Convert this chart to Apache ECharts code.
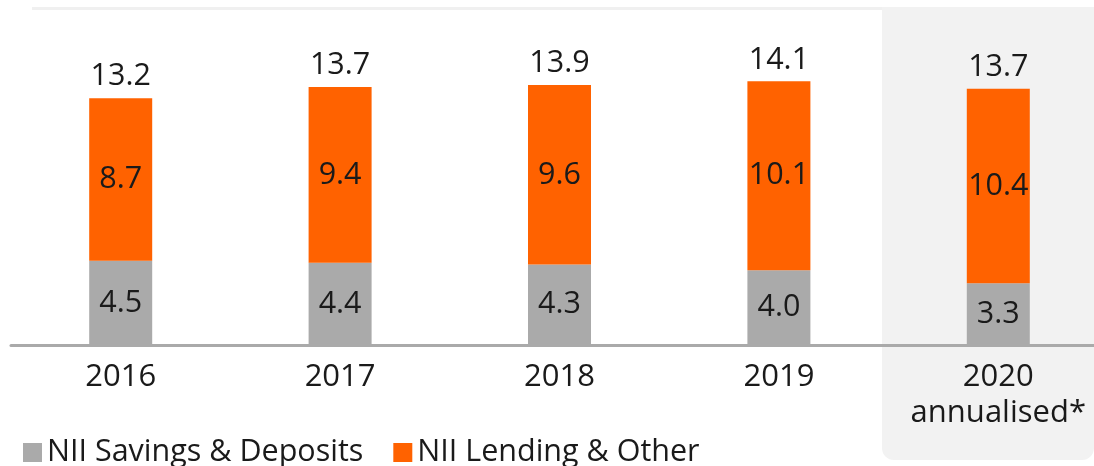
<!DOCTYPE html>
<html>
<head>
<meta charset="utf-8">
<script src="https://cdn.jsdelivr.net/npm/echarts@6/dist/echarts.min.js"></script>
<style>
    html, body { margin: 0; padding: 0; background: #fff; overflow: hidden; }
    #main { width: 1108px; height: 466px; }
</style>
</head>
<body>
<div id="main"></div>
<script>
// 年份
const years = ['2016', '2017', '2018', '2019', '2020\nannualised*'];
// 存款利息收入
const savings = [4.5, 4.4, 4.3, 4.0, 3.3];
// 贷款及其他
const lending = [8.7, 9.4, 9.6, 10.1, 10.4];
// 合计
const totals = [13.2, 13.7, 13.9, 14.1, 13.7];

const font = '"Open Sans", "Liberation Sans", sans-serif';
let chart = echarts.init(document.getElementById('main'));

chart.setOption({
    animation: false,
    textStyle: { fontFamily: font },
    grid: {
        left: 11,
        right: 0,
        top: 8.4,
        bottom: 121
    },
    graphic: [
        // 2020 背景
        {
            type: 'rect',
            z: -10,
            shape: { x: 882, y: 7, width: 212, height: 453, r: [0, 0, 12, 12] },
            style: { fill: '#f2f2f2' }
        },
        // 顶部细线
        {
            type: 'rect',
            z: -10,
            shape: { x: 32, y: 7, width: 850, height: 3 },
            style: { fill: '#f0f0f0' }
        }
    ],
    legend: {
        data: ['NII Savings & Deposits', 'NII Lending & Other'],
        left: 18,
        top: 432,
        itemWidth: 19,
        itemHeight: 19,
        itemGap: 30,
        icon: 'rect',
        textStyle: { fontSize: 30.5, color: '#1a1a1a', fontFamily: font }
    },
    xAxis: {
        type: 'category',
        data: years,
        axisTick: { show: false },
        axisLine: { lineStyle: { color: '#aaaaaa', width: 3 } },
        axisLabel: {
            interval: 0,
            fontSize: 31,
            color: '#1a1a1a',
            lineHeight: 36,
            margin: 14,
            fontFamily: font
        },
        z: 5
    },
    yAxis: {
        type: 'value',
        min: 0,
        max: 18,
        show: false,
        splitLine: { show: false }
    },
    series: [
        {
            name: 'NII Savings & Deposits',
            type: 'bar',
            stack: 'nii',
            barWidth: 63,
            itemStyle: { color: '#aaaaaa' },
            label: {
                show: true,
                position: 'inside',
                fontSize: 30.5,
                color: '#1a1a1a',
                fontFamily: font,
                formatter: function (p) { return p.value.toFixed(1); }
            },
            data: savings
        },
        {
            name: 'NII Lending & Other',
            type: 'bar',
            stack: 'nii',
            barWidth: 63,
            itemStyle: { color: '#ff6200' },
            label: {
                show: true,
                position: 'inside',
                fontSize: 30.5,
                color: '#1a1a1a',
                fontFamily: font,
                formatter: function (p) { return p.value.toFixed(1); }
            },
            data: lending
        },
        {
            // 合计标签
            name: 'total',
            type: 'bar',
            stack: 'nii',
            barWidth: 63,
            itemStyle: { color: 'transparent' },
            label: {
                show: true,
                position: 'insideBottom',
                distance: 6,
                fontSize: 30.5,
                color: '#1a1a1a',
                fontFamily: font,
                formatter: function (p) { return totals[p.dataIndex].toFixed(1); }
            },
            data: totals.map(function () { return 0.0001; })
        }
    ]
});
</script>
</body>
</html>
